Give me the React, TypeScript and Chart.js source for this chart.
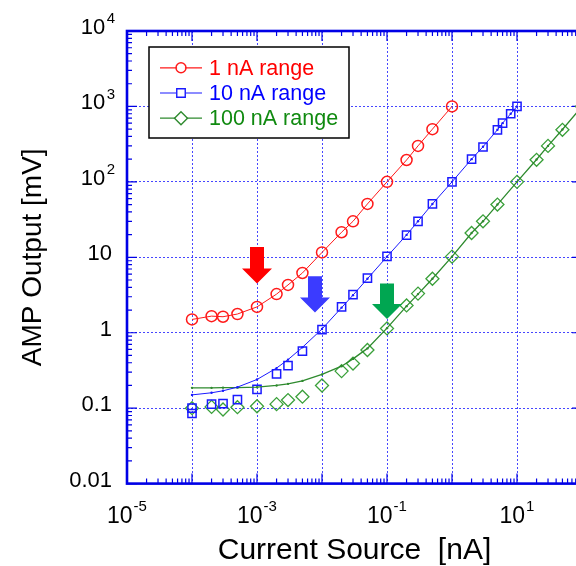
import React, { useEffect, useRef } from 'react';
import { Chart, registerables } from 'chart.js';

Chart.register(...registerables);

// ---------------- data ----------------
const seriesLabels = ['1 nA range', '10 nA range', '100 nA range'];

const redX = [1e-4, 2e-4, 3e-4, 5e-4, 1e-3, 2e-3, 3e-3, 5e-3, 1e-2, 2e-2, 3e-2, 5e-2, 0.1, 0.2, 0.3, 0.5, 1];
const redY = [1.5, 1.66, 1.63, 1.77, 2.2, 3.25, 4.3, 6.2, 11.6, 21.5, 30, 51, 100, 195, 300, 500, 1000];

const blueX = [1e-4, 1e-4, 2e-4, 3e-4, 5e-4, 1e-3, 2e-3, 3e-3, 5e-3, 1e-2, 2e-2, 3e-2, 5e-2, 0.1, 0.2, 0.3, 0.5, 1, 2, 3, 5, 6, 8, 10];
const blueY = [0.085, 0.1, 0.113, 0.115, 0.13, 0.178, 0.285, 0.367, 0.57, 1.1, 2.2, 3.2, 5.3, 10.3, 19.7, 30, 51, 100, 200, 290, 490, 600, 800, 1000];

const blueFitX = [1e-4, 2e-4, 3e-4, 5e-4, 1e-3, 2e-3, 3e-3, 5e-3, 1e-2, 2e-2, 3e-2, 5e-2, 0.1, 0.2, 0.3, 0.5, 1, 2, 3, 5, 6, 8, 10];
const blueFitY = [0.15, 0.16, 0.17, 0.19, 0.24, 0.34, 0.44, 0.64, 1.12, 2.15, 3.15, 5.2, 10.2, 19.8, 30, 51, 100, 200, 292, 490, 600, 800, 1000];

const greenX = [1e-4, 2e-4, 3e-4, 5e-4, 1e-3, 2e-3, 3e-3, 5e-3, 1e-2, 2e-2, 3e-2, 5e-2, 0.1, 0.2, 0.3, 0.5, 1, 2, 3, 5, 10, 20, 30, 50, 100];
const greenY = [0.1, 0.104, 0.096, 0.103, 0.106, 0.113, 0.128, 0.142, 0.2, 0.31, 0.39, 0.59, 1.14, 2.3, 3.3, 5.2, 10.2, 21, 30, 50, 100, 196, 300, 490, 1000];
const greenFitY = [0.186, 0.186, 0.187, 0.187, 0.19, 0.2, 0.21, 0.23, 0.28, 0.36, 0.45, 0.62, 1.15, 2.25, 3.25, 5.2, 10.2, 21, 30, 50, 100, 198, 300, 495, 1000];

// annotation arrows (data coordinates)
const arrowX = [1e-3, 7.8e-3, 0.1];
const arrowTop = [13.7, 5.6, 4.5];
const arrowTip = [4.5, 1.86, 1.52];

// ticks (base text + superscript exponent)
const xTickValues = [1e-5, 1e-4, 1e-3, 1e-2, 1e-1, 1, 10, 100];
const xTickBase = ['10', '', '10', '', '10', '', '10', ''];
const xTickExp = ['-5', '', '-3', '', '-1', '', '1', ''];
const yTickValues = [0.01, 0.1, 1, 10, 100, 1000, 10000];
const yTickBase = ['0.01', '0.1', '1', '10', '10', '10', '10'];
const yTickExp = ['', '', '', '', '2', '3', '4'];

// ---------------- styles ----------------
const FONT = '"Liberation Sans", Arial, Helvetica, sans-serif';
const RED = '#ff1a1a';
const BLUE = '#1a1aff';
const GREEN = '#2e8a2e';
const AXIS = '#0000e6';
const GRID = 'rgba(60,60,255,0.95)';
const arrowColors = ['#ff0000', '#3b3bff', '#00a651'];
const legendTextColors = ['#ff0000', '#0000ff', '#108a10'];
const legendStyles = ['circle', 'rect', 'rectRot'];
const legendColors = [RED, BLUE, GREEN];

const pts = (xs: number[], ys: number[]) => xs.map((x, i) => ({ x, y: ys[i] }));

function drawMarker(ctx: CanvasRenderingContext2D, style: string, x: number, y: number, r: number) {
  ctx.beginPath();
  if (style === 'circle') {
    ctx.arc(x, y, r, 0, Math.PI * 2);
  } else if (style === 'rect') {
    const s = r * Math.SQRT1_2;
    ctx.rect(x - s, y - s, 2 * s, 2 * s);
  } else {
    ctx.moveTo(x, y - r);
    ctx.lineTo(x + r, y);
    ctx.lineTo(x, y + r);
    ctx.lineTo(x - r, y);
    ctx.closePath();
  }
  ctx.stroke();
}

const framePlugin = {
  id: 'frame',
  beforeDatasetsDraw(chart: any) {
    const { ctx, chartArea: a, scales } = chart;
    const x = scales.x;
    const y = scales.y;
    ctx.save();
    ctx.strokeStyle = AXIS;
    ctx.lineWidth = 1.2;
    ctx.beginPath();
    for (let e = -5; e <= 2; e++) {
      for (let k = 1; k <= 9; k++) {
        const v = k * Math.pow(10, e);
        if (v > 100.0001) break;
        const px = x.getPixelForValue(v);
        const len = k === 1 ? 10 : 5;
        ctx.moveTo(px, a.bottom);
        ctx.lineTo(px, a.bottom - len);
        ctx.moveTo(px, a.top);
        ctx.lineTo(px, a.top + len);
      }
    }
    for (let e = -2; e <= 4; e++) {
      for (let k = 1; k <= 9; k++) {
        const v = k * Math.pow(10, e);
        if (v > 10000.001) break;
        const py = y.getPixelForValue(v);
        const len = k === 1 ? 10 : 5;
        ctx.moveTo(a.left, py);
        ctx.lineTo(a.left + len, py);
        ctx.moveTo(a.right, py);
        ctx.lineTo(a.right - len, py);
      }
    }
    ctx.stroke();
    ctx.lineWidth = 2.6;
    ctx.strokeRect(a.left, a.top, a.right - a.left, a.bottom - a.top);

    // tick labels with superscripts, positioned by the scales
    ctx.fillStyle = '#000000';
    ctx.textBaseline = 'middle';
    const baseX = `23px ${FONT}`;
    const expX = `15px ${FONT}`;
    for (let i = 0; i < xTickValues.length; i++) {
      if (!xTickBase[i]) continue;
      const px = x.getPixelForValue(xTickValues[i]);
      ctx.font = baseX;
      const wb = ctx.measureText(xTickBase[i]).width;
      ctx.font = expX;
      const we = ctx.measureText(xTickExp[i]).width;
      const start = px - (wb + 1 + we) / 2;
      ctx.textAlign = 'left';
      ctx.font = baseX;
      ctx.fillText(xTickBase[i], start, a.bottom + 33.5);
      ctx.font = expX;
      ctx.fillText(xTickExp[i], start + wb + 1, a.bottom + 23.5);
    }
    const baseY = `22px ${FONT}`;
    const expY = `15px ${FONT}`;
    for (let i = 0; i < yTickValues.length; i++) {
      const py = y.getPixelForValue(yTickValues[i]);
      ctx.textAlign = 'right';
      if (yTickExp[i]) {
        ctx.font = expY;
        const we = ctx.measureText(yTickExp[i]).width;
        const expRight = a.left - 12;
        ctx.fillText(yTickExp[i], expRight, py - 12);
        ctx.font = baseY;
        ctx.fillText(yTickBase[i], expRight - we - 1.5, py - 3);
      } else {
        ctx.font = baseY;
        ctx.fillText(yTickBase[i], a.left - 15, py - 3);
      }
    }
    ctx.restore();
  },
  afterDatasetsDraw(chart: any) {
    const { ctx, scales } = chart;
    const x = scales.x;
    const y = scales.y;
    ctx.save();
    for (let i = 0; i < arrowX.length; i++) {
      const cx = x.getPixelForValue(arrowX[i]);
      const top = y.getPixelForValue(arrowTop[i]);
      const tip = y.getPixelForValue(arrowTip[i]);
      const headLen = 15;
      const shaftHalf = 7;
      const headHalf = 15;
      ctx.fillStyle = arrowColors[i];
      ctx.beginPath();
      ctx.moveTo(cx - shaftHalf, top);
      ctx.lineTo(cx + shaftHalf, top);
      ctx.lineTo(cx + shaftHalf, tip - headLen);
      ctx.lineTo(cx + headHalf, tip - headLen);
      ctx.lineTo(cx, tip);
      ctx.lineTo(cx - headHalf, tip - headLen);
      ctx.lineTo(cx - shaftHalf, tip - headLen);
      ctx.closePath();
      ctx.fill();
    }
    ctx.restore();
  },
  afterDraw(chart: any) {
    const { ctx } = chart;
    ctx.save();
    const L = { left: 149, top: 47, right: 349, bottom: 138 };
    ctx.fillStyle = '#ffffff';
    ctx.fillRect(L.left, L.top, L.right - L.left, L.bottom - L.top);
    ctx.strokeStyle = '#000000';
    ctx.lineWidth = 1.5;
    ctx.strokeRect(L.left, L.top, L.right - L.left, L.bottom - L.top);
    ctx.font = `21.5px ${FONT}`;
    ctx.textBaseline = 'middle';
    ctx.textAlign = 'left';
    for (let i = 0; i < seriesLabels.length; i++) {
      const ry = 67.8 + i * 25.2;
      ctx.strokeStyle = legendColors[i];
      ctx.lineWidth = 1.2;
      ctx.beginPath();
      ctx.moveTo(160, ry);
      ctx.lineTo(202, ry);
      ctx.stroke();
      ctx.fillStyle = '#ffffff';
      ctx.lineWidth = 1.4;
      const r = legendStyles[i] === 'circle' ? 5 : legendStyles[i] === 'rect' ? 6 : 6.5;
      ctx.beginPath();
      ctx.arc(181, ry, r - 1, 0, Math.PI * 2);
      ctx.fill();
      drawMarker(ctx, legendStyles[i], 181, ry, r);
      ctx.fillStyle = legendTextColors[i];
      ctx.fillText(seriesLabels[i], 209, ry + 1);
    }
    ctx.restore();
  },
};

export default function App() {
  const ref = useRef<HTMLCanvasElement>(null);

  useEffect(() => {
    if (!ref.current) return;
    const chart = new Chart(ref.current, {
      type: 'line',
      data: {
        datasets: [
          {
            label: 'blue fit',
            data: pts(blueFitX, blueFitY),
            borderColor: BLUE,
            borderWidth: 1,
            pointRadius: 1.2,
            pointBackgroundColor: BLUE,
            pointBorderWidth: 0,
            tension: 0,
          },
          {
            label: 'green fit',
            data: pts(greenX, greenFitY),
            borderColor: GREEN,
            borderWidth: 1.3,
            pointRadius: 1.2,
            pointBackgroundColor: GREEN,
            pointBorderWidth: 0,
            tension: 0,
          },
          {
            label: seriesLabels[0],
            data: pts(redX, redY),
            borderColor: RED,
            borderWidth: 1,
            pointStyle: 'circle',
            pointRadius: 5.5,
            pointBorderWidth: 1.5,
            pointBorderColor: RED,
            pointBackgroundColor: 'rgba(0,0,0,0)',
          },
          {
            label: seriesLabels[1],
            data: pts(blueX, blueY),
            showLine: false,
            borderColor: BLUE,
            pointStyle: 'rect',
            pointRadius: 5.8,
            pointBorderWidth: 1.5,
            pointBorderColor: BLUE,
            pointBackgroundColor: 'rgba(0,0,0,0)',
          },
          {
            label: seriesLabels[2],
            data: pts(greenX, greenY),
            showLine: false,
            borderColor: GREEN,
            pointStyle: 'rectRot',
            pointRadius: 6.5,
            pointBorderWidth: 1.3,
            pointBorderColor: '#3aa03a',
            pointBackgroundColor: 'rgba(0,0,0,0)',
          },
        ],
      },
      options: {
        responsive: false,
        maintainAspectRatio: false,
        devicePixelRatio: 1,
        animation: false,
        events: [],
        layout: { padding: { top: 31, right: 10, left: 0, bottom: 0 } },
        plugins: {
          legend: { display: false },
          tooltip: { enabled: false },
        },
        scales: {
          x: {
            type: 'logarithmic',
            min: 1e-5,
            max: 100,
            afterBuildTicks: (s: any) => {
              s.ticks = xTickValues.map((v) => ({ value: v }));
            },
            afterFit: (s: any) => {
              s.height = 82.4;
            },
            ticks: {
              display: false,
              autoSkip: false,
              maxRotation: 0,
              minRotation: 0,
              callback: (_v: any, i: number) => xTickBase[i] + xTickExp[i],
            },
            grid: { color: GRID, lineWidth: 1, drawTicks: false },
            border: { display: false, dash: [2, 2] },
            title: {
              display: true,
              text: 'Current Source  [nA]',
              color: '#000',
              font: { family: FONT, size: 30, lineHeight: 1 },
              padding: { top: 0, bottom: 0 },
            },
          },
          y: {
            type: 'logarithmic',
            min: 0.01,
            max: 10000,
            afterBuildTicks: (s: any) => {
              s.ticks = yTickValues.map((v) => ({ value: v }));
            },
            afterFit: (s: any) => {
              s.width = 127;
            },
            ticks: {
              display: false,
              autoSkip: false,
              callback: (_v: any, i: number) => yTickBase[i] + yTickExp[i],
            },
            grid: { color: GRID, lineWidth: 1, drawTicks: false },
            border: { display: false, dash: [2, 2] },
            title: {
              display: true,
              text: 'AMP Output [mV]',
              color: '#000',
              font: { family: FONT, size: 28, lineHeight: 1.2 },
              padding: { top: 16, bottom: 0 },
            },
          },
        },
      },
      plugins: [framePlugin],
    } as any);
    return () => chart.destroy();
  }, []);

  return (
    <div
      style={{
        position: 'fixed',
        left: 0,
        top: 0,
        width: 576,
        height: 566,
        overflow: 'hidden',
        background: '#ffffff',
      }}
    >
      <canvas ref={ref} width={592} height={566} style={{ display: 'block', width: 592, height: 566 }} />
    </div>
  );
}
